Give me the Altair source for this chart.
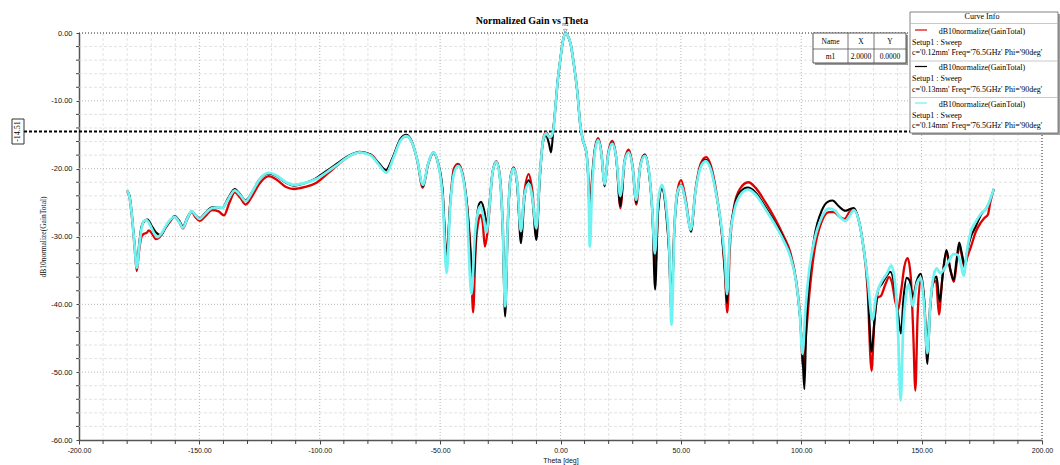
import altair as alt
import pandas as pd

# ---------------- data ----------------
beam_theta = [-3.0, -2.0, -1.2, 0.0, 1.0, 2.0, 3.0, 4.2, 5.5, 6.9, 8.2, 9.3, 10.8]
beam_gain = [-14.3, -10.5, -7.2, -3.7, -1.2, 0.0, -0.4, -1.6, -4.5, -8.4, -13.5, -15.8, -17.7]

# c = 0.12 mm (red)
red_theta_neg = [-180, -179, -178, -177, -176, -175, -174, -173, -172, -171, -170, -168, -166.5, -164, -162,
                 -160.2, -158.5, -156.8, -155, -153.2, -151.5, -149.9, -147.5, -144.7, -142, -139.8, -137.5,
                 -135.3, -133, -130.8, -128, -125, -121.2, -118, -114, -110.8, -106, -102, -97, -93, -88, -83.4,
                 -79, -75.5, -72.5, -69.5, -66.5, -64, -61.5, -59.5, -57.2, -55, -52.8, -50.8, -49, -47.3, -45.8,
                 -44.3, -42.5, -40.5, -38.8, -37.2, -36.3, -35.3, -34.0, -33.2, -32.3, -31.4, -30.4, -29.5, -28.2,
                 -26.6, -25.2, -24.0, -23.0, -21.9, -20.8, -19.5, -18.0, -16.5, -15.0, -13.2, -11.8, -10.0, -8.6,
                 -7.2, -6.0, -4.8, -4.0]
red_gain_neg = [-23.3, -24.3, -27.2, -31.2, -35.1, -32.0, -30.0, -29.6, -29.5, -29.1, -29.4, -30.4, -30.1, -28.7, -27.7,
                -27.1, -27.8, -28.8, -27.4, -26.4, -27.2, -27.7, -27.0, -26.1, -26.3, -26.9, -25.0,
                -23.5, -24.3, -25.3, -24.0, -22.2, -21.1, -21.6, -22.7, -23.0, -22.7, -22.2, -20.8, -19.6, -18.2, -17.6,
                -17.9, -19.2, -20.3, -18.3, -15.8, -15.2, -16.3, -18.8, -22.8, -19.4, -17.7, -19.3, -23.5, -33.4, -25.0,
                -20.0, -19.3, -21.0, -25.5, -33.0, -41.2, -32.0, -27.5, -26.8, -28.0, -31.5, -29.5, -26.0, -20.5,
                -18.9, -21.0, -28.0, -40.0, -28.0, -21.3, -19.8, -22.0, -29.5, -23.5, -20.8, -23.0, -29.5, -21.0,
                -15.6, -14.6, -15.3, -15.5]
red_theta_pos = [11.6, 12.2, 13.0, 14.5, 15.7, 17.0, 18.3, 19.8, 21.5, 23.2, 24.9, 26.6, 28.3, 30.0, 31.5, 33.2, 35.0,
                 36.8, 38.2, 39.3, 40.5, 42.1, 44.0, 45.2, 46.0, 47.3, 48.6, 50.1, 52.0, 54.2, 56.0, 58.2, 60.5, 62.5,
                 64.8, 67.0, 68.3, 69.3, 70.3, 72.0, 74.5, 78.0, 81.0, 85.0, 89.0, 92.5, 95.5, 97.8, 99.5, 100.8,
                 102.0, 103.5, 105.5, 108.5, 111.5, 113.5, 116.0, 118.0, 120.0, 121.8, 123.8, 125.6, 127.5, 129.2,
                 130.3, 131.7, 133.0, 135.0, 136.5, 137.8, 139.0, 140.2, 141.5, 142.8, 144.2, 145.5, 146.5, 147.4,
                 148.3, 149.5, 150.8, 152.3, 153.5, 154.6, 156.0, 157.2, 158.5, 160.3, 162.0, 163.4, 164.6, 165.7,
                 166.8, 167.8, 169.0, 170.5, 172.5, 174.5, 176.0, 177.5, 178.5, 180.0]
red_gain_pos = [-21.5, -26.8, -22.0, -16.6, -15.5, -17.6, -22.5, -17.7, -15.9, -18.5, -25.8, -18.8, -17.2, -19.8, -25.3,
                -19.3, -17.9, -20.6, -26.5, -35.0, -26.0, -22.8, -26.5, -32.5, -41.0, -28.5, -23.2, -21.7, -24.5, -29.0,
                -23.3, -19.3, -18.3, -19.6, -23.6, -29.5, -35.5, -41.2, -32.0, -25.8, -23.0, -22.0, -22.8, -24.9, -27.3,
                -29.8, -32.4, -36.3, -41.5, -49.3, -44.5, -38.0, -32.0, -27.8, -26.4, -26.4, -27.1, -27.4, -26.4, -25.9,
                -27.5, -31.0, -37.5, -49.8, -43.0, -39.0, -38.8, -37.0, -36.0, -37.0, -39.5, -40.8, -38.0, -34.5, -33.2,
                -36.0, -44.0, -52.7, -42.0, -36.5, -38.5, -45.0, -40.5, -37.0, -36.5, -41.5, -36.5, -32.6, -35.0, -36.7,
                -33.8, -31.3, -33.0, -34.5, -33.0, -31.5, -29.3, -28.0, -27.3, -26.8, -25.0, -23.0]

# c = 0.13 mm (black)
blk_theta_neg = [-180, -179, -178, -177, -176, -175, -174, -172.5, -171.5, -170, -168, -166, -164, -162,
                 -160.2, -158.5, -156.8, -155, -153.2, -151.5, -149.9, -147.5, -144.7, -142, -140.5, -138,
                 -135.3, -133, -130.8, -128, -125, -121.2, -118, -114, -110.8, -106, -102, -97, -93, -88, -83.4,
                 -79, -75.5, -72.5, -69.5, -66.5, -64, -61.5, -59.5, -57.2, -55, -52.8, -50.8, -49, -47.3, -45.8,
                 -44.3, -42.5, -40.5, -38.8, -37.0, -36.0, -35.0, -33.8, -33.0, -31.5, -30.7, -29.5, -28.2,
                 -26.6, -25.2, -24.0, -23.0, -21.9, -20.8, -19.5, -18.0, -16.4, -15.0, -13.2, -11.8, -10.0, -8.6,
                 -7.2, -6.0, -4.8, -3.9]
blk_gain_neg = [-23.2, -24.0, -26.8, -30.8, -34.4, -31.0, -28.5, -27.6, -27.5, -28.3, -29.4, -29.8, -28.6, -27.6,
                -27.0, -27.6, -28.5, -27.2, -26.3, -26.9, -27.3, -26.5, -25.7, -25.7, -25.8, -24.3,
                -23.0, -23.8, -24.7, -23.4, -21.6, -20.7, -21.1, -22.1, -22.5, -22.1, -21.5, -20.3, -19.3, -18.1, -17.5,
                -17.9, -19.2, -20.2, -18.2, -15.6, -15.0, -16.2, -18.7, -22.6, -19.3, -17.6, -19.2, -23.0, -33.0, -25.0,
                -20.5, -19.5, -21.2, -25.5, -34.0, -36.0, -28.5, -25.2, -24.9, -26.5, -28.2, -25.0, -20.5,
                -19.0, -21.3, -29.0, -41.8, -28.5, -21.5, -20.0, -22.5, -31.0, -24.5, -21.7, -24.0, -30.5, -21.5,
                -16.0, -15.1, -16.3, -17.6]
blk_theta_pos = [11.6, 12.2, 13.0, 14.5, 15.7, 17.0, 18.3, 19.8, 21.5, 23.2, 24.9, 26.6, 28.3, 30.0, 31.4, 33.2, 35.0,
                 36.8, 38.2, 39.3, 40.5, 42.1, 44.0, 45.2, 46.0, 47.3, 48.6, 50.1, 52.0, 54.2, 56.0, 58.2, 60.3, 62.5,
                 64.8, 67.0, 68.3, 69.2, 70.2, 72.0, 74.5, 77.8, 81.0, 85.0, 89.0, 92.5, 95.5, 97.8, 99.5, 100.6,
                 101.3, 102.0, 103.3, 105.5, 108.5, 111.0, 113.0, 115.5, 118.3, 120.0, 121.8, 123.8, 125.6, 127.5,
                 129.2, 130.5, 132.0, 133.5, 135.5, 137.0, 138.6, 140.2, 141.4, 142.5, 143.8, 145.0, 146.3, 148.0,
                 149.6, 151.0, 152.4, 153.5, 154.6, 156.2, 157.5, 158.8, 160.3, 162.0, 163.3, 164.5, 165.6, 166.7,
                 167.8, 169.0, 170.5, 172.5, 175.0, 177.0, 178.5, 180.0]
blk_gain_pos = [-22.0, -27.5, -22.5, -16.8, -15.7, -17.8, -22.6, -18.0, -16.2, -18.7, -25.5, -19.0, -17.5, -20.0, -25.0,
                -19.5, -18.0, -20.8, -27.0, -37.8, -26.5, -23.0, -27.0, -33.0, -40.8, -29.0, -23.8, -22.4, -25.0, -29.3,
                -23.5, -19.6, -18.7, -20.0, -24.0, -29.5, -35.0, -39.8, -31.0, -26.0, -23.5, -22.8, -23.5, -25.6, -27.9,
                -30.2, -32.8, -36.5, -42.0, -48.0, -52.5, -44.0, -36.5, -30.0, -26.2, -24.9, -24.7, -25.5, -26.2, -26.0,
                -25.8, -27.5, -31.0, -36.5, -47.0, -42.0, -37.8, -37.0, -35.8, -35.2, -37.0, -41.5, -44.3, -39.0,
                -36.1, -36.5, -38.9, -36.5, -35.5, -39.0, -48.8, -41.0, -37.0, -35.9, -39.6, -35.5, -32.0, -35.0,
                -36.4, -33.5, -30.9, -32.5, -34.2, -32.0, -30.0, -28.5, -26.6, -25.8, -24.6, -23.0]

# c = 0.14 mm (cyan)
cyn_theta_neg = [-180, -179, -178, -177, -176, -175, -174, -173, -172, -170.5, -169, -167.5, -166, -164, -162,
                 -160.2, -158.5, -156.8, -155, -153.2, -151.5, -149.9, -147.5, -144.7, -142, -140.5, -138,
                 -135.3, -133, -130.8, -128, -125, -121.2, -118, -114, -110.8, -106, -102, -97, -93, -88, -83.4,
                 -79, -75.5, -72.3, -69.5, -66.5, -64, -61.5, -59.5, -57.2, -55, -52.8, -50.8, -49, -47.3, -45.8,
                 -44.3, -42.5, -40.5, -38.8, -37.0, -35.5, -34.2, -33.2, -31.8, -30.8, -29.5, -28.2,
                 -26.6, -25.2, -24.0, -23.0, -21.9, -20.8, -19.5, -18.0, -16.5, -15.0, -13.2, -11.8, -10.0, -8.6,
                 -7.2, -6.0, -4.6, -4.0]
cyn_gain_neg = [-23.2, -24.2, -27.0, -31.0, -34.6, -31.5, -28.8, -27.7, -27.6, -28.3, -29.4, -30.1, -29.7, -28.5, -27.5,
                -27.1, -27.8, -28.7, -27.3, -26.3, -26.9, -27.4, -26.6, -25.8, -25.7, -25.8, -24.5,
                -23.2, -23.9, -24.8, -23.4, -21.6, -20.6, -21.0, -22.0, -22.4, -22.1, -21.6, -20.5, -19.5, -18.2, -17.6,
                -18.0, -19.4, -20.6, -18.5, -15.9, -15.2, -16.3, -18.7, -22.4, -19.3, -17.6, -19.3, -24.0, -35.4, -25.5,
                -20.8, -19.6, -21.3, -26.5, -38.5, -29.5, -26.2, -25.5, -27.5, -29.4, -25.5, -20.5,
                -19.0, -21.3, -28.5, -40.3, -28.0, -21.5, -20.0, -22.0, -29.2, -24.0, -22.2, -24.0, -28.8, -21.0,
                -15.8, -14.8, -15.4, -15.3]
cyn_theta_pos = [11.6, 12.2, 13.0, 14.5, 15.7, 17.0, 18.3, 19.8, 21.5, 23.2, 24.8, 26.6, 28.3, 30.0, 31.4, 33.2, 35.0,
                 36.8, 38.1, 39.2, 40.5, 42.1, 44.0, 45.2, 46.1, 47.3, 48.6, 50.1, 52.0, 54.1, 56.0, 58.2, 60.3, 62.5,
                 64.8, 67.0, 68.3, 69.2, 70.2, 72.0, 74.5, 77.8, 81.0, 85.0, 89.0, 92.5, 95.5, 97.8, 99.3, 100.5,
                 101.7, 103.3, 105.5, 108.5, 111.5, 114.0, 116.5, 118.3, 120.0, 121.8, 123.8, 125.6, 127.5, 129.6,
                 131.0, 132.5, 135.5, 137.4, 139.0, 140.3, 141.3, 142.3, 143.6, 144.6, 146.2, 148.0, 149.6, 151.0,
                 152.4, 153.6, 154.6, 156.2, 157.8, 159.5, 161.3, 163.2, 165.0, 166.4, 167.5, 168.7, 170.4, 172.5,
                 175.0, 177.0, 178.5, 180.0]
cyn_gain_pos = [-22.5, -31.5, -24.0, -17.0, -15.8, -17.8, -22.3, -18.0, -16.3, -18.5, -24.0, -19.0, -17.6, -20.0, -24.6,
                -19.5, -18.1, -20.5, -26.0, -32.5, -25.0, -22.4, -26.0, -32.0, -43.0, -29.0, -23.5, -22.5, -25.0, -29.0,
                -23.5, -19.8, -18.9, -20.2, -24.0, -29.0, -33.5, -38.5, -31.0, -26.5, -24.0, -23.1, -23.8, -25.9, -28.2,
                -30.5, -33.0, -36.5, -41.0, -47.3, -41.0, -35.0, -30.5, -27.2, -25.9, -26.2, -27.3, -27.7, -27.0, -26.1,
                -27.5, -31.0, -36.0, -42.3, -39.0, -37.3, -35.5, -34.3, -37.0, -45.0, -54.2, -44.0, -38.5, -37.0,
                -40.2, -37.0, -36.1, -40.0, -47.2, -40.0, -36.6, -34.7, -35.4, -34.7, -33.6, -32.6, -32.7, -34.3,
                -35.8, -32.5, -29.3, -27.8, -26.5, -25.8, -24.5, -23.0]

# grid / tick values
x_major = list(range(-200, 201, 50))
x_minor = [v for v in range(-200, 201, 10) if v % 50 != 0]
y_major = list(range(-60, 1, 10))
y_minor = [v for v in range(-60, 1, 2) if v % 10 != 0]
cut_level = [-14.51]
marker_theta = [2.0]
marker_gain = [0.0]

# legend / table text
legend_title = "Curve Info"
legend_expr = "dB10normalize(GainTotal)"
legend_setup = "Setup1 : Sweep"
legend_params = ["c='0.12mm' Freq='76.5GHz' Phi='90deg'",
                 "c='0.13mm' Freq='76.5GHz' Phi='90deg'",
                 "c='0.14mm' Freq='76.5GHz' Phi='90deg'"]
curve_colors = ["#e00000", "#000000", "#6ef2f2"]
table_header = ["Name", "X", "Y"]
table_row = ["m1", "2.0000", "0.0000"]

# ---------------- chart ----------------
W, H = 963, 407
SERIF = "Liberation Serif"
SANS = "Liberation Sans"

xs = alt.Scale(domain=[-200, 200], nice=False, zero=False)
ys = alt.Scale(domain=[-60, 0], nice=False, zero=False)
one = pd.DataFrame({"a": [0]})

neg_fmt = "(datum.value < 0 ? '-' : '') + format(abs(datum.value), '.2f')"

x_axis = alt.Axis(values=x_major, labelExpr=neg_fmt,
                  tickSize=4, tickColor="#444", domainColor="#555", domainWidth=1.5,
                  labelFont=SANS, labelFontSize=7, labelColor="#111", labelPadding=2,
                  labelFlush=False, labelOverlap=False, labelAngle=0, grid=False,
                  title="Theta [deg]", titleFont=SANS, titleFontSize=7, titleFontWeight="normal",
                  titleColor="#111", titlePadding=3)
y_axis = alt.Axis(values=y_major, labelExpr=neg_fmt,
                  tickSize=3, tickColor="#444", domainColor="#555", domainWidth=1.5,
                  labelFont=SANS, labelFontSize=7.5, labelColor="#111", labelPadding=4,
                  labelFlush=False, labelOverlap=False, grid=False,
                  title="dB10normalize(GainTotal)", titleFont=SERIF, titleFontSize=7.5,
                  titleFontWeight="normal", titleColor="#111", titlePadding=3)

X = lambda f="theta": alt.X(f"{f}:Q", scale=xs)
Y = lambda f="gain": alt.Y(f"{f}:Q", scale=ys)


def txt(s, x, y, size=8, font=SERIF, align="left", weight="normal", angle=0, color="black"):
    return alt.Chart(one).mark_text(text=s, fontSize=size, font=font, align=align, baseline="middle",
                                    fontWeight=weight, angle=angle, color=color).encode(
        x=alt.value(x), y=alt.value(y))


def box(x, y, x2, y2, fill, stroke=None, sw=0.0):
    kw = dict(fill=fill)
    if stroke:
        kw.update(stroke=stroke, strokeWidth=sw)
    return alt.Chart(one).mark_rect(**kw).encode(x=alt.value(x), x2=alt.value(x2),
                                                 y=alt.value(y), y2=alt.value(y2))


def hline(x, x2, y, color, sw=1.0, dash=None):
    kw = dict(color=color, strokeWidth=sw)
    if dash:
        kw["strokeDash"] = dash
    return alt.Chart(one).mark_rule(**kw).encode(x=alt.value(x), x2=alt.value(x2), y=alt.value(y))


def vline(x, y, y2, color, sw=1.0, dash=None):
    kw = dict(color=color, strokeWidth=sw)
    if dash:
        kw["strokeDash"] = dash
    return alt.Chart(one).mark_rule(**kw).encode(x=alt.value(x), y=alt.value(y), y2=alt.value(y2))


# axes carrier layer: invisible points spanning the domain, with both axes
axis_df = pd.DataFrame({"theta": [-200, 200], "gain": [-60, 0]})
axis_layer = alt.Chart(axis_df).mark_point(opacity=0).encode(
    x=alt.X("theta:Q", scale=xs, axis=x_axis),
    y=alt.Y("gain:Q", scale=ys, axis=y_axis))

layers = [axis_layer]

# grids
gx_minor = pd.DataFrame({"theta": x_minor})
gy_minor = pd.DataFrame({"gain": y_minor})
gx_major = pd.DataFrame({"theta": [v for v in x_major if abs(v) != 200]})
gy_major = pd.DataFrame({"gain": [v for v in y_major if v not in (0, -60)]})

layers.append(alt.Chart(gx_minor).mark_rule(color="#dadada", strokeWidth=0.8, strokeDash=[3, 2]).encode(
    x=X(), y=alt.value(0), y2=alt.value(H)))
layers.append(alt.Chart(gy_minor).mark_rule(color="#dadada", strokeWidth=0.8, strokeDash=[3, 2]).encode(
    y=Y(), x=alt.value(0), x2=alt.value(W)))
layers.append(alt.Chart(gx_major).mark_rule(color="#b0b0b0", strokeWidth=0.9, strokeDash=[1, 2]).encode(
    x=X(), y=alt.value(0), y2=alt.value(H)))
layers.append(alt.Chart(gy_major).mark_rule(color="#b0b0b0", strokeWidth=0.9, strokeDash=[1, 2]).encode(
    y=Y(), x=alt.value(0), x2=alt.value(W)))

# minor ticks on the axes
layers.append(alt.Chart(gx_minor).mark_rule(color="#444", strokeWidth=1).encode(
    x=X(), y=alt.value(H), y2=alt.value(H + 4)))
layers.append(alt.Chart(gy_minor).mark_rule(color="#444", strokeWidth=1).encode(
    y=Y(), x=alt.value(-3), x2=alt.value(0)))

# top & right dotted borders
layers.append(hline(0, W, 0, "#222", 1, [1, 2]))
layers.append(vline(W, 0, H, "#222", 1, [1, 2]))

# -14.51 cut line
cut_df = pd.DataFrame({"gain": cut_level})
layers.append(alt.Chart(cut_df).mark_rule(color="black", strokeWidth=2, strokeDash=[3, 2]).encode(
    y=Y(), x=alt.value(-55), x2=alt.value(W)))

# curves
series = [
    (red_theta_neg + beam_theta + red_theta_pos, red_gain_neg + beam_gain + red_gain_pos, curve_colors[0], 2.3),
    (blk_theta_neg + beam_theta + blk_theta_pos, blk_gain_neg + beam_gain + blk_gain_pos, curve_colors[1], 2.1),
    (cyn_theta_neg + beam_theta + cyn_theta_pos, cyn_gain_neg + beam_gain + cyn_gain_pos, curve_colors[2], 2.7),
]
for th, g, col, sw in series:
    df = pd.DataFrame({"theta": th, "gain": g})
    layers.append(alt.Chart(df).mark_line(color=col, strokeWidth=sw, interpolate="monotone").encode(
        x=X(), y=Y()))

# marker m1
mdf = pd.DataFrame({"theta": marker_theta, "gain": marker_gain})
layers.append(alt.Chart(mdf).mark_point(shape="triangle-down", size=14, color="#666", strokeWidth=0.8,
                                         filled=False, yOffset=-2).encode(x=X(), y=Y()))
layers.append(alt.Chart(mdf).mark_text(text="m1", fontSize=4.5, font=SANS, color="#333", yOffset=-8).encode(
    x=X(), y=Y()))

# title
layers.append(txt("Normalized Gain vs Theta", 453, -12, size=10, weight="bold", align="center"))

# -14.51 label box
layers.append(box(-67, 86, -55, 111, "white", "#333", 1))
layers.append(txt("-14.51", -61, 98.5, size=8, font=SERIF, align="center", angle=270))

# marker table
tx0, tx1, ty0, ty1 = 734, 827, 0, 30
layers.append(box(tx0 + 2, ty0 + 2, tx1 + 2, ty1 + 2, "#9a9a9a"))
layers.append(box(tx0, ty0, tx1, ty1, "white", "#555", 1))
layers.append(hline(tx0, tx1, 16, "#555", 0.8))
for cx in (769, 795):
    layers.append(vline(cx, ty0, ty1, "#555", 0.8))
col_centers = [751.5, 782, 811]
for s, cx in zip(table_header, col_centers):
    layers.append(txt(s, cx, 9, size=7.5, align="center"))
for s, cx in zip(table_row, col_centers):
    layers.append(txt(s, cx, 23.5, size=7.5, align="center"))

# legend box (Curve Info)
lx0, lx1, ly0, ly1 = 831, 979, -21, 100
layers.append(box(lx0 + 2, ly0 + 2, lx1 + 2, ly1 + 2, "#a0a0a0"))
layers.append(box(lx0, ly0, lx1, ly1, "white", "#666", 0.8))
layers.append(txt(legend_title, 903, -16, size=8, align="center"))
layers.append(hline(lx0, lx1, -9.5, "#bbbbbb", 0.8))
for i, (params, col) in enumerate(zip(legend_params, curve_colors)):
    base = -1.5 + 36.5 * i
    layers.append(hline(836, 848, base - 1.5, col, 1.2))
    layers.append(txt(legend_expr, 903, base, size=8, align="center"))
    layers.append(txt(legend_setup, 833, base + 11, size=8))
    layers.append(txt(params, 833, base + 21.5, size=8))
    if i < 2:
        layers.append(hline(lx0, lx1, base + 29.5, "#bbbbbb", 0.8))

chart = alt.layer(*layers).properties(
    width=W, height=H,
    padding={"left": 79, "top": 33, "right": 18, "bottom": 25},
    autosize=alt.AutoSizeParams(type="none"),
    background="white",
).configure_view(stroke=None)

chart.save("out.html", embed_options={"renderer": "svg", "actions": False})
